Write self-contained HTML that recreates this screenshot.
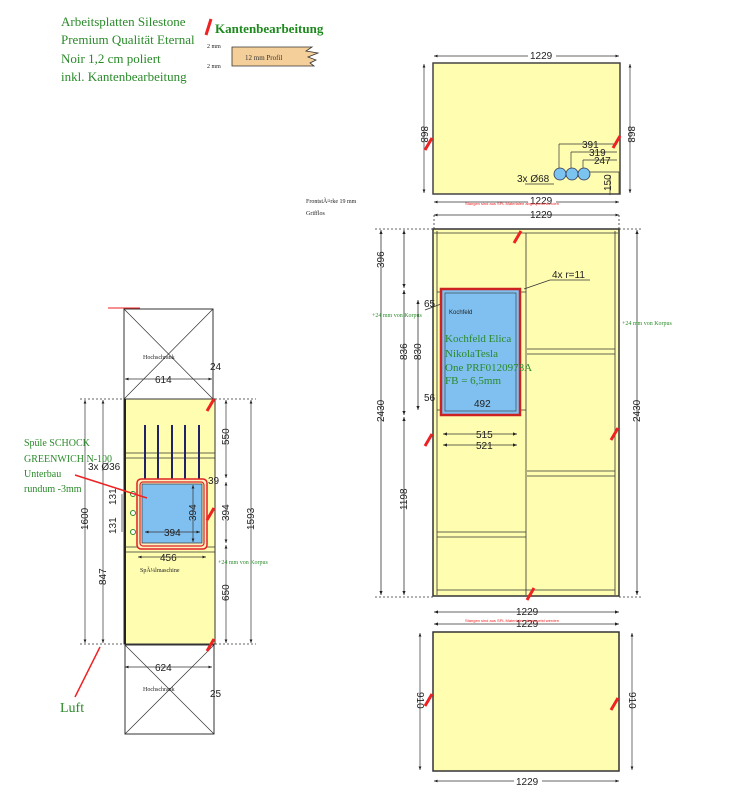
<!DOCTYPE html>
<html><head><meta charset="utf-8"><style>
body{margin:0;background:#fff;width:750px;height:809px;overflow:hidden}
svg{display:block}
.g{font-family:"Liberation Serif",serif;fill:#2a8a2a}
.d{font-family:"Liberation Sans",sans-serif;font-size:10px;fill:#222}
.s{font-family:"Liberation Serif",serif;font-size:6px;fill:#222}
</style></head><body>
<svg width="750" height="809" viewBox="0 0 750 809" xmlns="http://www.w3.org/2000/svg">
<defs>
<marker id="a" viewBox="0 0 10 10" refX="10" refY="5" markerWidth="5" markerHeight="5" orient="auto-start-reverse"><path d="M0,1 L10,5 L0,9z" fill="#222"/></marker>
</defs>
<!-- legend -->
<text class="g" x="61" y="26" font-size="13">Arbeitsplatten Silestone</text>
<text class="g" x="61" y="44" font-size="13">Premium Qualität Eternal</text>
<text class="g" x="61" y="63" font-size="13">Noir 1,2 cm poliert</text>
<text class="g" x="61" y="81" font-size="13">inkl. Kantenbearbeitung</text>
<line x1="206" y1="35" x2="211" y2="19" stroke="#e22" stroke-width="3"/>
<text x="215" y="33" font-family="Liberation Serif,serif" font-size="13" font-weight="bold" fill="#1e8a1e">Kantenbearbeitung</text>
<text class="s" x="207" y="48" font-size="6">2 mm</text>
<text class="s" x="207" y="68" font-size="6">2 mm</text>
<path d="M232,47 H312 L306,51 L318,53 L308,57 L316,60 L310,63 L314,66 H232z" fill="#f5cf9a" stroke="#333" stroke-width="0.8"/>
<text x="245" y="60" font-family="Liberation Serif,serif" font-size="7" fill="#333">12 mm Profil</text>
<text class="s" x="306" y="203">FrontstÃ¤rke 19 mm</text>
<text class="s" x="306" y="215">Grifflos</text>

<!-- top right panel -->
<rect x="433" y="63" width="187" height="131" fill="#fffdb0" stroke="#444" stroke-width="1.5"/>
<g stroke="#333" stroke-width="0.7" fill="none">
<line x1="434" y1="56" x2="619" y2="56" marker-start="url(#a)" marker-end="url(#a)"/>
<line x1="424" y1="64" x2="424" y2="193" marker-start="url(#a)" marker-end="url(#a)"/>
<line x1="630" y1="64" x2="630" y2="193" marker-start="url(#a)" marker-end="url(#a)"/>
<line x1="434" y1="202" x2="619" y2="202" marker-start="url(#a)" marker-end="url(#a)"/>
<line x1="434" y1="215" x2="619" y2="215" marker-start="url(#a)" marker-end="url(#a)"/>
<path d="M559,144 H617 M571,152 H617 M583,160 H617 M559,144 V172 M571,152 V172 M583,160 V172 M590,172 H619 V194 M610,175 V195 M525,184 H554"/>
</g>
<rect x="528" y="50" width="28" height="12" fill="#fff"/><text class="d" x="530" y="59">1229</text>
<rect x="528" y="196" width="28" height="12" fill="#fff"/><text class="d" x="530" y="204">1229</text>
<text class="d" x="530" y="218">1229</text>
<text class="d" transform="translate(424,134) rotate(90)" x="-8" y="3">868</text>
<text class="d" transform="translate(631,134) rotate(90)" x="-8" y="3">868</text>
<text class="d" x="582" y="148">391</text><text class="d" x="589" y="156">319</text><text class="d" x="594" y="164">247</text>
<text class="d" x="517" y="182">3x Ø68</text>
<text class="d" transform="translate(608,183) rotate(-90)" x="-8" y="3">150</text>
<circle cx="560" cy="174" r="6" fill="#7cc4f0" stroke="#335" stroke-width="0.8"/>
<circle cx="572" cy="174" r="6" fill="#7cc4f0" stroke="#335" stroke-width="0.8"/>
<circle cx="584" cy="174" r="6" fill="#7cc4f0" stroke="#335" stroke-width="0.8"/>
<text x="465" y="205" font-family="Liberation Sans,sans-serif" font-size="4" fill="#e22">Stangen sind aus SPL Materialen abgespeist werden</text>

<!-- main panel -->
<rect x="433" y="229" width="186" height="367" fill="#fffdb0" stroke="#333" stroke-width="1.5"/>
<g stroke="#333" stroke-width="0.8" fill="none">
<line x1="437" y1="231" x2="437" y2="595"/><line x1="615" y1="231" x2="615" y2="595"/>
<line x1="434" y1="233" x2="618" y2="233"/>
<line x1="526" y1="233" x2="526" y2="595"/>
<line x1="527" y1="349" x2="615" y2="349"/><line x1="527" y1="354" x2="615" y2="354"/>
<line x1="527" y1="471" x2="615" y2="471"/><line x1="527" y1="476" x2="615" y2="476"/>
<line x1="437" y1="532" x2="526" y2="532"/><line x1="437" y1="537" x2="526" y2="537"/>
<line x1="437" y1="590" x2="615" y2="590"/>
<line x1="437" y1="292" x2="526" y2="292"/><line x1="437" y1="410" x2="526" y2="410"/>
<line x1="381" y1="230" x2="381" y2="595" marker-start="url(#a)" marker-end="url(#a)"/>
<line x1="404" y1="230" x2="404" y2="288" marker-start="url(#a)" marker-end="url(#a)"/>
<line x1="404" y1="290" x2="404" y2="415" marker-start="url(#a)" marker-end="url(#a)"/>
<line x1="404" y1="417" x2="404" y2="595" marker-start="url(#a)" marker-end="url(#a)"/>
<line x1="418" y1="300" x2="418" y2="410" marker-start="url(#a)" marker-end="url(#a)"/>
<line x1="637" y1="230" x2="637" y2="595" marker-start="url(#a)" marker-end="url(#a)"/>
<line x1="443" y1="434" x2="517" y2="434" marker-start="url(#a)" marker-end="url(#a)"/>
<line x1="443" y1="445" x2="517" y2="445" marker-start="url(#a)" marker-end="url(#a)"/>
<line x1="434" y1="612" x2="619" y2="612" marker-start="url(#a)" marker-end="url(#a)"/>
<line x1="434" y1="624" x2="619" y2="624" marker-start="url(#a)" marker-end="url(#a)"/>
<line x1="434" y1="215" x2="434" y2="229" stroke-dasharray="2 2"/><line x1="619" y1="215" x2="619" y2="229" stroke-dasharray="2 2"/>
<line x1="375" y1="229" x2="433" y2="229" stroke-dasharray="2 2"/><line x1="619" y1="229" x2="642" y2="229" stroke-dasharray="2 2"/>
<line x1="375" y1="597" x2="433" y2="597" stroke-dasharray="2 2"/><line x1="619" y1="597" x2="642" y2="597" stroke-dasharray="2 2"/>
<line x1="524" y1="289" x2="550" y2="280"/><line x1="550" y1="280" x2="590" y2="280"/>
<line x1="425" y1="310" x2="441" y2="304"/>
</g>
<rect x="441" y="289" width="79" height="126" fill="#80c0f0" stroke="#c22" stroke-width="2.5"/>
<rect x="445" y="293" width="71" height="118" fill="none" stroke="#333" stroke-width="0.6"/>
<text class="d" x="552" y="278">4x r=11</text>
<text class="d" x="424" y="307">65</text>
<text class="d" x="424" y="401">56</text>
<text class="d" x="474" y="407">492</text>
<text class="d" x="476" y="438">515</text>
<text class="d" x="476" y="449">521</text>
<text x="449" y="314" font-family="Liberation Sans,sans-serif" font-size="6" fill="#222">Kochfeld</text>
<text class="g" x="445" y="342" font-size="11">Kochfeld Elica</text>
<text class="g" x="445" y="357" font-size="11">NikolaTesla</text>
<text class="g" x="445" y="371" font-size="11">One PRF0120978A</text>
<text class="g" x="445" y="384" font-size="11">FB = 6,5mm</text>
<text class="g" x="372" y="317" font-size="6">+24 mm von Korpus</text>
<text class="g" x="622" y="325" font-size="6">+24 mm von Korpus</text>
<text class="d" transform="translate(381,260) rotate(-90)" x="-8" y="3">396</text>
<text class="d" transform="translate(404,352) rotate(-90)" x="-8" y="3">836</text>
<text class="d" transform="translate(418,352) rotate(-90)" x="-8" y="3">830</text>
<text class="d" transform="translate(381,412) rotate(-90)" x="-10" y="3">2430</text>
<text class="d" transform="translate(637,412) rotate(-90)" x="-10" y="3">2430</text>
<text class="d" transform="translate(404,500) rotate(-90)" x="-10" y="3">1198</text>
<rect x="394" y="338" width="20" height="30" fill="#fffdb0" opacity="0"/>
<text class="d" x="516" y="615">1229</text>
<text class="d" x="516" y="627">1229</text>
<text x="465" y="622" font-family="Liberation Sans,sans-serif" font-size="4" fill="#e22">Stangen sind aus SPL Materialen abgespeist werden</text>

<!-- bottom panel -->
<rect x="433" y="632" width="186" height="139" fill="#fffdb0" stroke="#333" stroke-width="1.5"/>
<g stroke="#333" stroke-width="0.7" fill="none">
<line x1="420" y1="633" x2="420" y2="770" marker-start="url(#a)" marker-end="url(#a)"/>
<line x1="632" y1="633" x2="632" y2="770" marker-start="url(#a)" marker-end="url(#a)"/>
<line x1="434" y1="781" x2="619" y2="781" marker-start="url(#a)" marker-end="url(#a)"/>
</g>
<rect x="514" y="775" width="28" height="12" fill="#fff"/><text class="d" x="516" y="785">1229</text>
<text class="d" transform="translate(420,700) rotate(90)" x="-8" y="3">910</text>
<text class="d" transform="translate(632,700) rotate(90)" x="-8" y="3">910</text>

<!-- left column -->
<rect x="124" y="309" width="89" height="90" fill="#fff" stroke="#333"/>
<path d="M124,309 L213,399 M213,309 L124,399" stroke="#333" stroke-width="0.7"/>
<rect x="124" y="399" width="91" height="245" fill="#fffdb0" stroke="#333"/>
<line x1="125" y1="399" x2="125" y2="644" stroke="#222" stroke-width="2"/>
<rect x="125" y="645" width="89" height="89" fill="#fff" stroke="#333"/>
<path d="M125,645 L214,734 M214,645 L125,734" stroke="#333" stroke-width="0.7"/>
<line x1="125" y1="453" x2="215" y2="453" stroke="#333" stroke-width="0.7"/>
<line x1="125" y1="458" x2="215" y2="458" stroke="#333" stroke-width="0.7"/>
<line x1="125" y1="547" x2="215" y2="547" stroke="#333" stroke-width="0.7"/>
<line x1="125" y1="552" x2="215" y2="552" stroke="#333" stroke-width="0.7"/>
<g stroke="#226" stroke-width="2"><line x1="145" y1="425" x2="145" y2="481"/><line x1="158" y1="425" x2="158" y2="481"/><line x1="172" y1="425" x2="172" y2="481"/><line x1="185" y1="425" x2="185" y2="481"/><line x1="199" y1="425" x2="199" y2="481"/></g>
<rect x="137" y="479" width="70" height="70" rx="4" fill="#fff0c0" stroke="#d22" stroke-width="1.5"/>
<rect x="140" y="482" width="64" height="64" rx="3" fill="none" stroke="#d22" stroke-width="1.2"/>
<rect x="142" y="484" width="60" height="59" fill="#80c0f0" stroke="#333" stroke-width="0.7"/>
<g fill="#fff" stroke="#2a8a2a"><circle cx="133" cy="494" r="2.5"/><circle cx="133" cy="513" r="2.5"/><circle cx="133" cy="532" r="2.5"/></g>
<g stroke="#333" stroke-width="0.7" fill="none">
<line x1="85" y1="400" x2="85" y2="643" marker-start="url(#a)" marker-end="url(#a)"/>
<line x1="103" y1="400" x2="103" y2="643" marker-start="url(#a)" marker-end="url(#a)"/>
<line x1="226" y1="400" x2="226" y2="478" marker-start="url(#a)" marker-end="url(#a)"/>
<line x1="226" y1="482" x2="226" y2="543" marker-start="url(#a)" marker-end="url(#a)"/>
<line x1="226" y1="545" x2="226" y2="643" marker-start="url(#a)" marker-end="url(#a)"/>
<line x1="251" y1="400" x2="251" y2="643" marker-start="url(#a)" marker-end="url(#a)"/>
<line x1="125" y1="379" x2="212" y2="379" marker-start="url(#a)" marker-end="url(#a)"/>
<line x1="125" y1="667" x2="212" y2="667" marker-start="url(#a)" marker-end="url(#a)"/>
<line x1="138" y1="557" x2="206" y2="557" marker-start="url(#a)" marker-end="url(#a)"/>
<line x1="145" y1="532" x2="200" y2="532" marker-start="url(#a)" marker-end="url(#a)"/>
<line x1="193" y1="485" x2="193" y2="542" marker-start="url(#a)" marker-end="url(#a)"/>
<line x1="80" y1="399" x2="124" y2="399" stroke-dasharray="2 2"/><line x1="215" y1="399" x2="256" y2="399" stroke-dasharray="2 2"/>
<line x1="80" y1="644" x2="124" y2="644" stroke-dasharray="2 2"/><line x1="215" y1="644" x2="256" y2="644" stroke-dasharray="2 2"/>
<line x1="122" y1="494" x2="122" y2="532"/>
</g>
<text class="d" x="155" y="383">614</text>
<text class="d" x="155" y="671">624</text>
<text class="d" x="160" y="561">456</text>
<text class="d" x="164" y="536">394</text>
<text class="d" x="88" y="470">3x Ø36</text>
<text class="d" x="210" y="370" font-size="8">24</text>
<text class="d" x="210" y="697" font-size="8">25</text>
<text class="d" x="208" y="484" font-size="8">39</text>
<text class="d" transform="translate(85,520) rotate(-90)" x="-10" y="3">1600</text>
<text class="d" transform="translate(103,577) rotate(-90)" x="-8" y="3">847</text>
<text class="d" transform="translate(226,437) rotate(-90)" x="-8" y="3">550</text>
<text class="d" transform="translate(226,513) rotate(-90)" x="-8" y="3">394</text>
<text class="d" transform="translate(226,593) rotate(-90)" x="-8" y="3">650</text>
<text class="d" transform="translate(251,520) rotate(-90)" x="-10" y="3">1593</text>
<text class="d" transform="translate(193,513) rotate(-90)" x="-8" y="3">394</text>
<text class="d" transform="translate(113,497) rotate(-90)" x="-8" y="3">131</text>
<text class="d" transform="translate(113,526) rotate(-90)" x="-8" y="3">131</text>
<text x="143" y="359" font-family="Liberation Serif,serif" font-size="6" fill="#222">Hochschrank</text>
<text x="143" y="691" font-family="Liberation Serif,serif" font-size="6" fill="#222">Hochschrank</text>
<text x="140" y="572" font-family="Liberation Serif,serif" font-size="6" fill="#222">SpÃ¼lmaschine</text>
<text class="g" x="24" y="446" font-size="10">Spüle SCHOCK</text>
<text class="g" x="24" y="462" font-size="10">GREENWICH N-100</text>
<text class="g" x="24" y="477" font-size="10">Unterbau</text>
<text class="g" x="24" y="492" font-size="10">rundum -3mm</text>
<text class="g" x="218" y="564" font-size="6">+24 mm von Korpus</text>
<line x1="75" y1="475" x2="147" y2="498" stroke="#e22" stroke-width="1.5"/>
<line x1="75" y1="697" x2="100" y2="647" stroke="#e22" stroke-width="1.5"/>
<text class="g" x="60" y="712" font-size="14">Luft</text>
<line x1="108" y1="308" x2="140" y2="308" stroke="#e22" stroke-width="1"/>

<!-- red edge marks -->
<g stroke="#e22" stroke-width="3">
<line x1="425" y1="150" x2="432" y2="138"/><line x1="613" y1="148" x2="620" y2="136"/>
<line x1="514" y1="243" x2="521" y2="231"/>
<line x1="425" y1="446" x2="432" y2="434"/><line x1="611" y1="440" x2="618" y2="428"/>
<line x1="527" y1="600" x2="534" y2="588"/>
<line x1="425" y1="706" x2="432" y2="694"/><line x1="611" y1="710" x2="618" y2="698"/>
<line x1="207" y1="411" x2="214" y2="399"/><line x1="207" y1="520" x2="214" y2="508"/><line x1="207" y1="651" x2="214" y2="639"/>
</g>
</svg>
</body></html>
